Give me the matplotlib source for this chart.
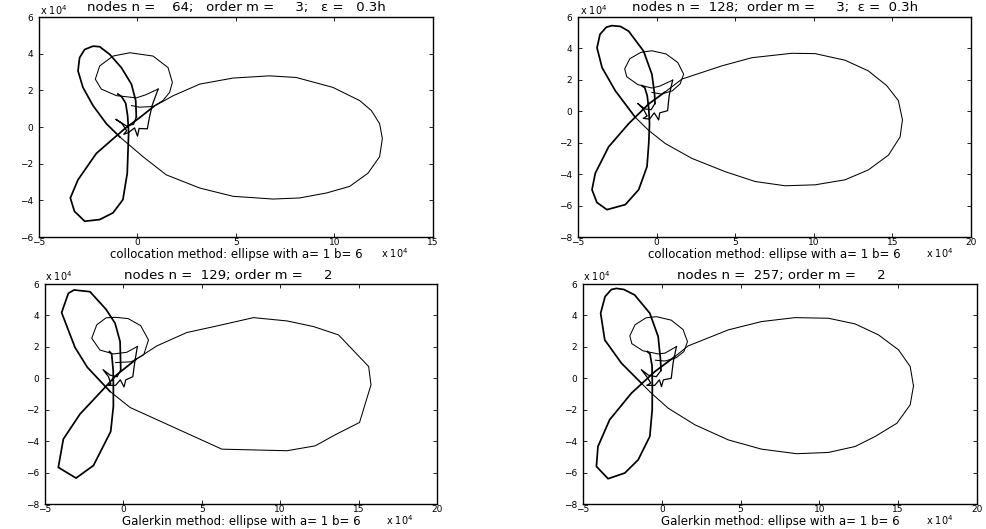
import numpy as np
import matplotlib
matplotlib.use("Agg")
import matplotlib.pyplot as plt

plt.rcParams['font.family'] = ['DejaVu Sans']
plt.rcParams['mathtext.fontset'] = 'dejavusans'

W, H = 987, 529

# ---------------- data (units of 1e4) ----------------
# Panel 1: collocation, n = 64
p1_low_x = [-1.0, -0.8, -0.6, -0.5, -0.45, -0.48, -0.52, -0.74, -1.24, -1.92, -2.68, -3.2, -3.41, -3.02, -2.09, -1.3, -0.6, 0.1, 0.8]
p1_low_y = [1.8, 1.65, 1.3, 0.6, -0.3, -1.26, -2.52, -3.96, -4.68, -5.05, -5.14, -4.6, -3.87, -2.88, -1.44, -0.7, -0.05, 0.5, 1.1]
p1_right_x = [0.8, 1.8, 3.16, 4.85, 6.71, 8.06, 9.92, 11.28, 11.87, 12.29, 12.43, 12.29, 11.70, 10.77, 9.59, 8.23, 6.88, 4.85, 3.16, 1.46, 0.28, -0.9]
p1_right_y = [1.1, 1.7, 2.34, 2.67, 2.79, 2.70, 2.16, 1.44, 0.90, 0.18, -0.63, -1.62, -2.52, -3.24, -3.60, -3.87, -3.93, -3.78, -3.33, -2.61, -1.62, -0.54]
p1_up_x = [-0.9, -1.58, -2.26, -2.77, -3.02, -2.94, -2.68, -2.26, -1.92, -1.41, -0.82, -0.31, -0.09, -0.06]
p1_up_y = [-0.54, 0.18, 1.17, 2.16, 3.06, 3.78, 4.23, 4.41, 4.38, 3.96, 3.24, 2.34, 1.44, 0.54]
p1_mess_x = [-0.06, -0.2, -0.55, -1.1, -0.8, -0.55, -0.7, -0.45, -0.15, 0.0, 0.08, 0.5, 0.6, 0.75, 1.05]
p1_mess_y = [0.54, 0.15, 0.05, 0.42, 0.2, -0.2, -0.4, -0.3, -0.05, -0.5, -0.08, -0.1, 0.5, 1.2, 2.07]
p1_circ_x = [1.05, 0.4, -0.06, -1.07, -1.84, -2.14, -1.92, -1.24, -0.39, 0.79, 1.55, 1.77, 1.63, 1.29, 0.79, 0.11, -0.31]
p1_circ_y = [2.07, 1.75, 1.59, 1.71, 2.07, 2.61, 3.33, 3.87, 4.05, 3.87, 3.24, 2.43, 1.89, 1.44, 1.12, 1.08, 1.17]

# Panel 2: collocation, n = 128
p2_low_x = [-0.93, -0.75, -0.6, -0.5, -0.45, -0.5, -0.61, -1.14, -1.99, -3.16, -3.8, -4.11, -3.9, -3.05, -1.78, -0.5, 0.5]
p2_low_y = [1.63, 1.5, 1.0, 0.2, -0.8, -2.05, -3.52, -4.99, -5.94, -6.26, -5.8, -4.99, -3.94, -2.26, -0.79, 0.47, 1.2]
p2_right_x = [0.5, 1.61, 4.15, 6.06, 8.6, 10.08, 11.99, 13.47, 14.64, 15.38, 15.64, 15.49, 14.75, 13.47, 11.99, 10.08, 8.18, 6.27, 4.36, 2.25, 0.55, -0.5, -1.36]
p2_right_y = [1.2, 2.05, 2.89, 3.41, 3.69, 3.67, 3.25, 2.57, 1.63, 0.68, -0.54, -1.63, -2.79, -3.73, -4.36, -4.68, -4.74, -4.47, -3.84, -3.0, -2.05, -1.22, -0.38]
p2_up_x = [-1.36, -2.63, -3.47, -3.79, -3.6, -3.2, -2.84, -2.3, -1.78, -0.83, -0.30, -0.13, -0.1]
p2_up_y = [-0.38, 1.31, 2.78, 4.04, 4.9, 5.35, 5.45, 5.4, 5.1, 3.83, 2.36, 1.1, 0.5]
p2_mess_x = [-0.1, -0.35, -0.75, -1.2, -0.85, -0.6, -0.85, -0.45, -0.15, 0.13, 0.2, 0.7, 0.8, 1.02]
p2_mess_y = [0.5, 0.1, 0.15, 0.5, 0.15, -0.3, -0.45, -0.5, -0.1, -0.55, -0.1, 0.04, 1.0, 1.98]
p2_circ_x = [1.02, 0.2, -0.3, -1.2, -1.9, -2.03, -1.7, -1.0, -0.3, 0.6, 1.35, 1.72, 1.5, 1.0, 0.3, -0.3]
p2_circ_y = [1.98, 1.6, 1.48, 1.7, 2.2, 2.7, 3.35, 3.75, 3.85, 3.65, 3.1, 2.36, 1.75, 1.3, 1.1, 1.2]

# Panel 3: Galerkin, n = 129
p3_low_x = [-0.89, -0.75, -0.65, -0.64, -0.64, -0.81, -1.91, -3.02, -4.15, -3.83, -2.77, -1.38, -0.43, 0.8]
p3_low_y = [1.7, 1.55, 0.5, -0.6, -1.8, -3.39, -5.55, -6.35, -5.67, -3.87, -2.28, -0.8, 0.22, 1.2]
p3_right_x = [0.8, 2.13, 4.04, 5.96, 8.3, 10.43, 12.13, 13.72, 15.64, 15.79, 15.06, 13.5, 12.23, 10.43, 6.28, 0.43, -0.85]
p3_right_y = [1.2, 2.06, 2.91, 3.33, 3.86, 3.65, 3.29, 2.76, 0.75, -0.42, -2.81, -3.6, -4.3, -4.61, -4.51, -1.86, -0.84]
p3_up_x = [-0.85, -2.30, -3.09, -3.94, -3.51, -3.15, -2.13, -1.11, -0.53, -0.21, -0.17]
p3_up_y = [-0.84, 0.70, 1.97, 4.18, 5.41, 5.62, 5.51, 4.39, 3.5, 2.33, 0.53]
p3_mess_x = [-0.17, -0.4, -0.85, -1.3, -0.95, -0.8, -0.95, -0.5, -0.2, 0.04, 0.15, 0.6, 0.72, 0.89]
p3_mess_y = [0.53, 0.1, 0.2, 0.55, 0.1, -0.35, -0.45, -0.45, -0.1, -0.55, -0.1, 0.1, 1.0, 2.02]
p3_circ_x = [0.89, 0.2, -0.64, -1.5, -2.02, -1.7, -1.1, -0.53, 0.3, 1.1, 1.6, 1.3, 0.5, -0.5]
p3_circ_y = [2.02, 1.65, 1.55, 1.8, 2.55, 3.4, 3.85, 3.88, 3.8, 3.35, 2.44, 1.5, 1.05, 1.0]

# Panel 4: Galerkin, n = 257
p4_low_x = [-0.91, -0.75, -0.62, -0.6, -0.61, -0.76, -1.5, -2.35, -3.41, -4.15, -4.05, -3.31, -1.93, -0.45, 0.83]
p4_low_y = [1.7, 1.55, 0.8, -0.5, -2.01, -3.7, -5.19, -6.03, -6.39, -5.61, -4.34, -2.64, -0.95, 0.42, 1.38]
p4_right_x = [0.83, 1.67, 4.22, 6.33, 8.45, 10.57, 12.27, 13.75, 15.02, 15.76, 15.97, 15.76, 14.92, 13.54, 12.27, 10.57, 8.56, 6.33, 4.22, 2.1, 0.4, -0.66, -1.29]
p4_right_y = [1.38, 2.06, 3.08, 3.61, 3.86, 3.82, 3.46, 2.76, 1.81, 0.75, -0.49, -1.69, -2.86, -3.7, -4.34, -4.72, -4.8, -4.51, -3.92, -2.96, -1.9, -0.95, -0.32]
p4_up_x = [-1.29, -2.56, -3.62, -3.88, -3.6, -3.2, -2.88, -2.4, -1.72, -0.76, -0.23, -0.08, -0.05]
p4_up_y = [-0.32, 0.96, 2.44, 4.14, 5.2, 5.65, 5.72, 5.65, 5.3, 4.14, 2.65, 1.17, 0.5]
p4_mess_x = [-0.05, -0.35, -0.85, -1.3, -0.95, -0.7, -0.95, -0.45, -0.15, -0.02, 0.1, 0.6, 0.72, 0.93]
p4_mess_y = [0.5, 0.1, 0.2, 0.55, 0.1, -0.3, -0.45, -0.45, -0.1, -0.53, -0.1, 0.0, 1.0, 2.02]
p4_circ_x = [0.93, 0.2, -0.23, -1.2, -1.9, -2.03, -1.7, -1.0, -0.34, 0.6, 1.35, 1.63, 1.4, 0.9, 0.2, -0.4]
p4_circ_y = [2.02, 1.6, 1.55, 1.75, 2.2, 2.7, 3.4, 3.85, 3.92, 3.7, 3.1, 2.33, 1.7, 1.3, 1.1, 1.15]

titles = [
    "nodes n =    64;   order m =     3;   \u03b5 =   0.3h",
    "nodes n =  128;  order m =     3;  \u03b5 =  0.3h",
    "nodes n =  129; order m =     2",
    "nodes n =  257; order m =     2",
]
xlabels = [
    "collocation method: ellipse with a= 1 b= 6",
    "collocation method: ellipse with a= 1 b= 6",
    "Galerkin method: ellipse with a= 1 b= 6",
    "Galerkin method: ellipse with a= 1 b= 6",
]
xlims = [(-5, 15), (-5, 20), (-5, 20), (-5, 20)]
ylims = [(-6, 6), (-8, 6), (-8, 6), (-8, 6)]
xticks = [[-5, 0, 5, 10, 15], [-5, 0, 5, 10, 15, 20], [-5, 0, 5, 10, 15, 20], [-5, 0, 5, 10, 15, 20]]
yticks = [[-6, -4, -2, 0, 2, 4, 6], [-8, -6, -4, -2, 0, 2, 4, 6], [-8, -6, -4, -2, 0, 2, 4, 6], [-8, -6, -4, -2, 0, 2, 4, 6]]

curves = [
    (p1_low_x, p1_low_y, p1_right_x, p1_right_y, p1_up_x, p1_up_y, p1_mess_x, p1_mess_y, p1_circ_x, p1_circ_y),
    (p2_low_x, p2_low_y, p2_right_x, p2_right_y, p2_up_x, p2_up_y, p2_mess_x, p2_mess_y, p2_circ_x, p2_circ_y),
    (p3_low_x, p3_low_y, p3_right_x, p3_right_y, p3_up_x, p3_up_y, p3_mess_x, p3_mess_y, p3_circ_x, p3_circ_y),
    (p4_low_x, p4_low_y, p4_right_x, p4_right_y, p4_up_x, p4_up_y, p4_mess_x, p4_mess_y, p4_circ_x, p4_circ_y),
]

# layout in pixels: (left, top, right, bottom)
boxes = [(39, 17, 433, 237), (578, 17, 971, 237), (45, 284, 437, 504), (583, 284, 977, 504)]
title_pos = [(236, 8), (775, 8), (228, 275), (781, 275)]
offtop_pos = [(40, 10), (580, 10), (45, 276), (583, 276)]
offbot_pos = [(381, 253), (926, 253), (386, 520), (926, 520)]

fig = plt.figure(figsize=(W / 100, H / 100), dpi=100)
fs_tick = 6.5
fs_text = 8.5
fs_title = 9.5

def fmt(v):
    return ("\u2212%d" % -v) if v < 0 else "%d" % v

for i in range(4):
    l, t, r, b = boxes[i]
    ax = fig.add_axes([l / W, 1 - b / H, (r - l) / W, (b - t) / H])
    lx, ly, rx, ry, ux, uy, mx, my, cx, cy = curves[i]
    ax.plot(lx, ly, color='black', lw=1.25, solid_joinstyle='round')
    ax.plot(rx, ry, color='black', lw=0.75, solid_joinstyle='round')
    ax.plot(ux, uy, color='black', lw=1.25, solid_joinstyle='round')
    ax.plot(mx, my, color='black', lw=0.9, solid_joinstyle='round')
    ax.plot(cx, cy, color='black', lw=0.75, solid_joinstyle='round')
    ax.set_xlim(*xlims[i])
    ax.set_ylim(*ylims[i])
    ax.set_xticks(xticks[i])
    ax.set_yticks(yticks[i])
    ax.set_xticklabels([fmt(v) for v in xticks[i]])
    ax.set_yticklabels([fmt(v) for v in yticks[i]])
    ax.tick_params(direction='in', length=3, width=0.6, top=True, right=True,
                   labelsize=fs_tick)
    ax.tick_params(axis='x', pad=0.5)
    ax.tick_params(axis='y', pad=4)
    for s in ax.spines.values():
        s.set_linewidth(1.0)
    tx, ty = title_pos[i]
    fig.text(tx / W, 1 - ty / H, titles[i], ha='center', va='center', fontsize=fs_title)
    ox, oy = offtop_pos[i]
    fig.text(ox / W, 1 - oy / H, r"x 10$^{\mathregular{4}}$", ha='left', va='center', fontsize=fs_tick + 0.5)
    bx, by = offbot_pos[i]
    fig.text(bx / W, 1 - by / H, r"x 10$^{\mathregular{4}}$", ha='left', va='center', fontsize=fs_tick + 0.5)
    cxl = (l + r) / 2
    fig.text(cxl / W, 1 - (b + 18) / H, xlabels[i], ha='center', va='center', fontsize=fs_text)

fig.savefig("out.png", dpi=100)
